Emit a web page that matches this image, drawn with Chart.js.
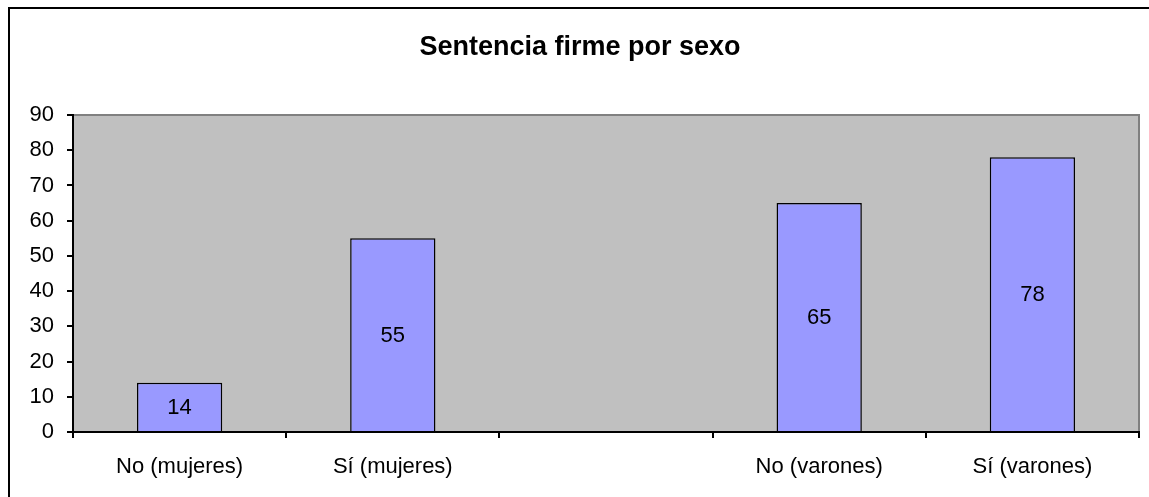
<!DOCTYPE html>
<html>
<head>
<meta charset="utf-8">
<script src="https://cdn.jsdelivr.net/npm/chart.js@4"></script>
<style>
    html, body { margin: 0; padding: 0; background: #fff; overflow: hidden; }
    #wrap { position: relative; width: 1149px; height: 497px; }
    #frame {
        position: absolute; left: 8px; top: 7px; width: 1160px; height: 520px;
        border: 2px solid #000; box-sizing: border-box; pointer-events: none;
    }
    canvas { position: absolute; left: 0; top: 0; }
</style>
</head>
<body>
<div id="wrap">
    <canvas id="chart" width="1149" height="497"></canvas>
    <div id="frame"></div>
</div>
<script>
const chartTitle = 'Sentencia firme por sexo';
const categories = ['No (mujeres)', 'Sí (mujeres)', '', 'No (varones)', 'Sí (varones)'];
const counts = [14, 55, null, 65, 78];
const yTicks = [0, 10, 20, 30, 40, 50, 60, 70, 80, 90];

const fontFamily = '"Liberation Sans", Arial, sans-serif';

// gray plot area, its border, title and value labels
const decorPlugin = {
    id: 'decor',
    beforeDraw(chart) {
        const { ctx, chartArea: a } = chart;
        ctx.save();
        ctx.fillStyle = '#C0C0C0';
        ctx.fillRect(a.left, a.top, a.right - a.left, a.bottom - a.top);
        ctx.strokeStyle = '#808080';
        ctx.lineWidth = 2;
        ctx.beginPath();
        ctx.moveTo(a.left, a.top);
        ctx.lineTo(a.right, a.top);
        ctx.lineTo(a.right, a.bottom);
        ctx.stroke();
        ctx.restore();
    },
    afterDraw(chart) {
        const { ctx } = chart;
        ctx.save();
        ctx.fillStyle = '#000';
        ctx.font = 'bold 27px ' + fontFamily;
        ctx.textAlign = 'center';
        ctx.textBaseline = 'middle';
        ctx.fillText(chartTitle, 580, 48);

        ctx.font = '22px ' + fontFamily;
        const meta = chart.getDatasetMeta(0);
        meta.data.forEach((bar, i) => {
            if (counts[i] == null) return;
            const y = (bar.y + bar.base) / 2;
            ctx.fillText(String(counts[i]), bar.x, y + 1);
        });
        ctx.restore();
    }
};

const ctx = document.getElementById('chart').getContext('2d');
new Chart(ctx, {
    type: 'bar',
    data: {
        labels: categories,
        datasets: [{
            data: counts,
            backgroundColor: '#9999FF',
            borderColor: '#000',
            borderWidth: 1.5,
            barPercentage: 0.4,
            categoryPercentage: 1.0
        }]
    },
    options: {
        responsive: false,
        animation: false,
        layout: { padding: { left: 0, top: 115, right: 10, bottom: 0 } },
        scales: {
            x: {
                offset: true,
                grid: {
                    offset: true,
                    drawOnChartArea: false,
                    color: '#000',
                    tickLength: 6,
                    lineWidth: 2
                },
                border: { color: '#000', width: 2 },
                ticks: {
                    color: '#000',
                    padding: 16,
                    font: { family: fontFamily, size: 22 },
                    maxRotation: 0,
                    autoSkip: false
                },
                afterFit(scale) { scale.height = 65; }
            },
            y: {
                min: 0,
                max: 90,
                afterBuildTicks(scale) { scale.ticks = yTicks.map(v => ({ value: v })); },
                grid: {
                    drawOnChartArea: false,
                    color: '#000',
                    tickLength: 6,
                    lineWidth: 2
                },
                border: { color: '#000', width: 2 },
                ticks: {
                    color: '#000',
                    padding: 13,
                    font: { family: fontFamily, size: 22 }
                },
                afterFit(scale) { scale.width = 73; }
            }
        },
        plugins: {
            legend: { display: false },
            title: { display: false },
            tooltip: { enabled: false }
        }
    },
    plugins: [decorPlugin]
});
</script>
</body>
</html>
